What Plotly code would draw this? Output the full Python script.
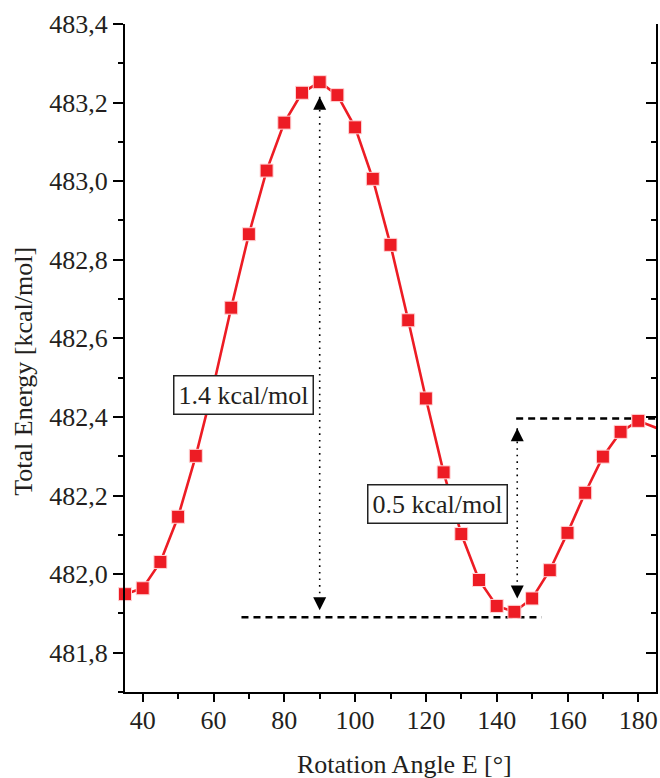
import plotly.graph_objects as go

# ---- data ----
angles = [35, 40, 45, 50, 55, 60, 65, 70, 75, 80, 85, 90, 95, 100, 105, 110, 115,
          120, 125, 130, 135, 140, 145, 150, 155, 160, 165, 170, 175, 180]
energy = [481.949, 481.964, 482.031, 482.146, 482.301, 482.480, 482.678, 482.865,
          483.027, 483.149, 483.225, 483.252, 483.219, 483.137, 483.006, 482.838,
          482.646, 482.447, 482.259, 482.102, 481.985, 481.919, 481.904, 481.938,
          482.010, 482.105, 482.207, 482.299, 482.362, 482.390]
# curve continues past the right edge of the plot
tail_angles = [180, 190]
tail_energy = [482.390, 482.355]

x_ticks = [40, 60, 80, 100, 120, 140, 160, 180]

# barrier annotations
barrier1_x = 90
barrier1_top = 483.215
barrier1_bottom = 481.908
barrier1_label = "1.4 kcal/mol"
barrier1_label_pos = (68.5, 482.455)
base_line_x = [67.9, 152.7]
base_line_y = 481.890

barrier2_x = 145.8
barrier2_top = 482.371
barrier2_bottom = 481.938
barrier2_label = "0.5 kcal/mol"
barrier2_label_pos = (123.3, 482.179)
top_line_x = [145.5, 185]
top_line_y = 482.396

RED = "#ed1c24"
TXT = "#231f20"
FONT = "Liberation Serif"

fig = go.Figure()

# dashed reference lines
fig.add_trace(go.Scatter(x=base_line_x, y=[base_line_y, base_line_y], mode="lines",
                         line=dict(color="black", width=2.5, dash="7px,5px"),
                         hoverinfo="skip", showlegend=False))
fig.add_trace(go.Scatter(x=top_line_x, y=[top_line_y, top_line_y], mode="lines",
                         line=dict(color="black", width=2.5, dash="7px,5px"),
                         hoverinfo="skip", showlegend=False))

# dotted double arrows
for bx, btop, bbot in [(barrier1_x, barrier1_top, barrier1_bottom),
                       (barrier2_x, barrier2_top, barrier2_bottom)]:
    fig.add_trace(go.Scatter(x=[bx, bx], y=[btop, bbot], mode="lines",
                             line=dict(color="black", width=1.6, dash="1.6px,5px"),
                             hoverinfo="skip", showlegend=False))
    fig.add_trace(go.Scatter(x=[bx], y=[btop], mode="markers",
                             marker=dict(symbol="arrow-up", size=13, color="black",
                                         line=dict(width=0)),
                             hoverinfo="skip", showlegend=False, cliponaxis=False))
    fig.add_trace(go.Scatter(x=[bx], y=[bbot], mode="markers",
                             marker=dict(symbol="arrow-down", size=13, color="black",
                                         line=dict(width=0)),
                             hoverinfo="skip", showlegend=False, cliponaxis=False))

# energy curve
fig.add_trace(go.Scatter(x=angles + tail_angles[1:], y=energy + tail_energy[1:],
                         mode="lines", line=dict(color=RED, width=2.6),
                         showlegend=False, cliponaxis=True))
fig.add_trace(go.Scatter(x=angles, y=energy, mode="markers",
                         marker=dict(symbol="square", size=13, color=RED,
                                     line=dict(color="#ffd6d8", width=1)),
                         showlegend=False, cliponaxis=False))

# invisible trace for the right axis
fig.add_trace(go.Scatter(x=[angles[0]], y=[energy[0]], yaxis="y2", mode="markers",
                         marker=dict(opacity=0), hoverinfo="skip", showlegend=False))

axis_common = dict(showgrid=False, zeroline=False, showline=True, linecolor="black",
                   linewidth=2, tickcolor="black", tickwidth=2)

fig.update_layout(
    width=660, height=778,
    margin=dict(l=125, r=2, t=24, b=86),
    paper_bgcolor="white", plot_bgcolor="white",
    separators=",.",
    font=dict(family=FONT, size=26, color=TXT),
    xaxis=dict(range=[35, 185], tickvals=x_ticks, ticks="outside", ticklen=8,
               ticklabelstandoff=-4,
               tickfont=dict(size=26, color=TXT),
               minor=dict(dtick=10, tick0=0, ticks="outside", ticklen=5,
                          tickwidth=2, tickcolor="black"),
               **axis_common),
    yaxis=dict(range=[481.7, 483.4], dtick=0.2, tick0=481.8, tickformat=".1f",
               ticks="outside", ticklen=10,
               tickfont=dict(size=26, color=TXT),
               minor=dict(dtick=0.1, tick0=481.7, ticks="outside", ticklen=5,
                          tickwidth=2, tickcolor="black"),
               **axis_common),
    yaxis2=dict(range=[481.7, 483.4], overlaying="y", side="right", dtick=0.2,
                tick0=481.8, ticks="inside", ticklen=10, showticklabels=False,
                minor=dict(dtick=0.1, tick0=481.7, ticks="inside", ticklen=5,
                           tickwidth=2, tickcolor="black"),
                **axis_common),
    annotations=[
        dict(text=barrier1_label, x=barrier1_label_pos[0], y=barrier1_label_pos[1],
             xref="x", yref="y", showarrow=False, bgcolor="white",
             bordercolor="#222", borderwidth=1.5, borderpad=4,
             font=dict(size=26, color=TXT, family=FONT)),
        dict(text=barrier2_label, x=barrier2_label_pos[0], y=barrier2_label_pos[1],
             xref="x", yref="y", showarrow=False, bgcolor="white",
             bordercolor="#222", borderwidth=1.5, borderpad=4,
             font=dict(size=26, color=TXT, family=FONT)),
        dict(text="Rotation Angle E [°]", x=0.527, y=-0.109, xref="paper", yref="paper",
             xanchor="center", yanchor="middle", showarrow=False,
             font=dict(size=26, color=TXT, family=FONT)),
        dict(text="Total Energy [kcal/mol]", x=-0.19, y=0.4795, xref="paper",
             yref="paper", xanchor="center", yanchor="middle", textangle=-90,
             showarrow=False, font=dict(size=26, color=TXT, family=FONT)),
    ],
)

fig.write_html("out.html")
